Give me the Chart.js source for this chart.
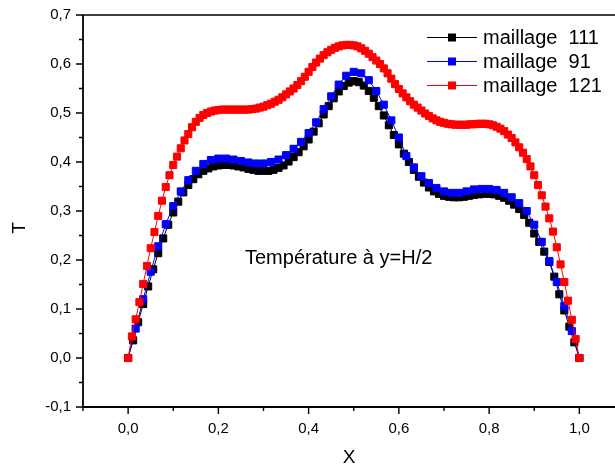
<!DOCTYPE html>
<html><head><meta charset="utf-8">
<script src="https://cdn.jsdelivr.net/npm/chart.js@4"></script>
<style>html,body{margin:0;padding:0;background:#fff;overflow:hidden}</style>
</head><body>
<canvas id="c" width="615" height="467"></canvas>
<script>
const seriesLabels = ['maillage  111', 'maillage  91', 'maillage  121'];
const seriesColors = ['#000000', '#0000ff', '#ff0000'];

// T values on uniform meshes from x = 0 to x = 1
const black111 = [
  0, 0.036, 0.073, 0.110, 0.146, 0.181, 0.214, 0.244, 0.272, 0.297,
  0.319, 0.338, 0.353, 0.365, 0.375, 0.382, 0.387, 0.391, 0.393, 0.394,
  0.394, 0.393, 0.391, 0.389, 0.386, 0.384, 0.382, 0.382, 0.382, 0.384,
  0.388, 0.393, 0.401, 0.410, 0.420, 0.432, 0.446, 0.462, 0.479, 0.497,
  0.514, 0.530, 0.544, 0.555, 0.562, 0.565, 0.563, 0.556, 0.545, 0.531,
  0.514, 0.495, 0.475, 0.455, 0.436, 0.417, 0.400, 0.384, 0.370, 0.358,
  0.348, 0.340, 0.335, 0.331, 0.329, 0.328, 0.328, 0.329, 0.331, 0.333,
  0.334, 0.335, 0.335, 0.334, 0.331, 0.327, 0.321, 0.313, 0.304, 0.292,
  0.276, 0.254, 0.237, 0.217, 0.196, 0.166, 0.130, 0.097, 0.064, 0.032,
  0
];
const blue91 = [
  0, 0.060, 0.120, 0.176, 0.228, 0.273, 0.310, 0.340, 0.363, 0.382,
  0.396, 0.404, 0.407, 0.407, 0.405, 0.402, 0.399, 0.397, 0.397, 0.400,
  0.405, 0.414, 0.427, 0.441, 0.459, 0.481, 0.508, 0.534, 0.558, 0.576,
  0.584, 0.581, 0.567, 0.545, 0.517, 0.485, 0.450, 0.412, 0.389, 0.371,
  0.357, 0.347, 0.340, 0.337, 0.337, 0.340, 0.344, 0.345, 0.345, 0.343,
  0.337, 0.328, 0.316, 0.300, 0.272, 0.237, 0.198, 0.155, 0.106, 0.055,
  0
];
const red121 = [
  0, 0.044, 0.079, 0.114, 0.151, 0.188, 0.224, 0.257, 0.290, 0.321,
  0.349, 0.373, 0.394, 0.411, 0.428, 0.444, 0.457, 0.471, 0.482, 0.490,
  0.496, 0.500, 0.503, 0.505, 0.506, 0.507, 0.507, 0.507, 0.507, 0.507,
  0.507, 0.507, 0.507, 0.508, 0.509, 0.511, 0.513, 0.516, 0.519, 0.523,
  0.527, 0.532, 0.538, 0.544, 0.550, 0.557, 0.565, 0.574, 0.584, 0.594,
  0.603, 0.611, 0.618, 0.624, 0.629, 0.633, 0.636, 0.638, 0.639, 0.639,
  0.638, 0.636, 0.632, 0.627, 0.621, 0.614, 0.607, 0.600, 0.591, 0.581,
  0.570, 0.559, 0.549, 0.540, 0.532, 0.524, 0.517, 0.511, 0.505, 0.499,
  0.494, 0.489, 0.485, 0.482, 0.480, 0.478, 0.477, 0.476, 0.476, 0.476,
  0.476, 0.477, 0.477, 0.478, 0.478, 0.478, 0.477, 0.475, 0.472, 0.468,
  0.463, 0.456, 0.449, 0.440, 0.430, 0.419, 0.406, 0.391, 0.373, 0.353,
  0.332, 0.309, 0.285, 0.258, 0.226, 0.191, 0.155, 0.117, 0.078, 0.039,
  0
];

const xTickValues = [0, 0.2, 0.4, 0.6, 0.8, 1.0];
const xMinorValues = [-0.1, 0.1, 0.3, 0.5, 0.7, 0.9];
const yTickValues = [-0.1, 0, 0.1, 0.2, 0.3, 0.4, 0.5, 0.6, 0.7];
const yMinorValues = [-0.05, 0.05, 0.15, 0.25, 0.35, 0.45, 0.55, 0.65];
const xTitle = 'X';
const yTitle = 'T';
const noteText = 'Température à y=H/2';
const notePos = {x: 0.259, y: 0.204};

const FONT = "'Liberation Sans', Arial, sans-serif";

function onMesh(arr) {
  const n = arr.length - 1;
  return arr.map((v, i) => ({x: i / n, y: v}));
}
function fmt(v) {
  return (Math.round(v * 10) / 10).toFixed(1).replace('.', ',');
}

const seriesData = [black111, blue91, red121];
const datasets = seriesData.map((arr, k) => ({
  label: seriesLabels[k],
  data: onMesh(arr),
  showLine: true,
  borderColor: seriesColors[k],
  backgroundColor: seriesColors[k],
  borderWidth: 1,
  pointStyle: 'rect',
  pointRadius: 5,
  pointBorderWidth: 1,
  pointBorderColor: seriesColors[k],
  pointBackgroundColor: seriesColors[k],
  order: 3 - k
}));

const decor = {
  id: 'decor',
  afterDraw(chart) {
    const ctx = chart.ctx;
    const a = chart.chartArea;
    const xs = chart.scales.x, ys = chart.scales.y;
    ctx.save();
    ctx.strokeStyle = '#000';
    ctx.lineCap = 'butt';
    // frame
    ctx.lineWidth = 1.8;
    ctx.beginPath();
    ctx.moveTo(a.left, a.top); ctx.lineTo(a.left, a.bottom);
    ctx.moveTo(a.left - 1, a.bottom); ctx.lineTo(a.right, a.bottom);
    ctx.stroke();
    ctx.lineWidth = 1.4;
    ctx.beginPath();
    ctx.moveTo(a.left, a.top); ctx.lineTo(a.right, a.top);
    ctx.stroke();
    // ticks
    ctx.lineWidth = 1.4;
    ctx.beginPath();
    xTickValues.forEach(v => { const p = xs.getPixelForValue(v); ctx.moveTo(p, a.bottom); ctx.lineTo(p, a.bottom + 7); });
    xMinorValues.forEach(v => { const p = xs.getPixelForValue(v); ctx.moveTo(p, a.bottom); ctx.lineTo(p, a.bottom + 4); });
    yTickValues.forEach(v => { const p = ys.getPixelForValue(v); ctx.moveTo(a.left, p); ctx.lineTo(a.left - 7, p); });
    yMinorValues.forEach(v => { const p = ys.getPixelForValue(v); ctx.moveTo(a.left, p); ctx.lineTo(a.left - 4, p); });
    ctx.stroke();
    // axis titles
    ctx.fillStyle = '#000';
    ctx.font = '19px ' + FONT;
    ctx.textAlign = 'center';
    ctx.textBaseline = 'middle';
    ctx.fillText(xTitle, (a.left + a.right) / 2, 458);
    ctx.save();
    ctx.translate(20, 228);
    ctx.rotate(-Math.PI / 2);
    ctx.fillText(yTitle, 0, 0);
    ctx.restore();
    // annotation
    ctx.font = '20px ' + FONT;
    ctx.textAlign = 'left';
    ctx.fillText(noteText, xs.getPixelForValue(notePos.x), ys.getPixelForValue(notePos.y));
    // legend
    const rows = [37, 61, 85];
    chart.data.datasets.forEach((ds, i) => {
      const y = rows[i];
      ctx.strokeStyle = ds.borderColor;
      ctx.lineWidth = 1;
      ctx.beginPath();
      ctx.moveTo(427, y + 0.5); ctx.lineTo(477, y + 0.5);
      ctx.stroke();
      ctx.fillStyle = ds.backgroundColor;
      ctx.fillRect(448, y - 3.5, 8, 8);
      ctx.fillStyle = '#000';
      ctx.font = '20px ' + FONT;
      ctx.textAlign = 'left';
      ctx.textBaseline = 'middle';
      ctx.fillText(ds.label, 483, y + 1);
    });
    ctx.restore();
  }
};

new Chart(document.getElementById('c'), {
  type: 'scatter',
  data: {datasets},
  options: {
    responsive: false,
    animation: false,
    devicePixelRatio: 1,
    layout: {autoPadding: false, padding: {top: 15, left: 0, right: 0, bottom: 0}},
    plugins: {legend: {display: false}, tooltip: {enabled: false}},
    scales: {
      x: {
        type: 'linear', min: -0.1, max: 1.079,
        afterBuildTicks: s => { s.ticks = xTickValues.map(v => ({value: v})); },
        afterFit: s => { s.height = 60; s.paddingLeft = 0; s.paddingRight = 0; },
        grid: {display: false, drawTicks: false},
        border: {display: false},
        ticks: {callback: v => fmt(v), color: '#000', font: {family: FONT, size: 15}, padding: 13, maxRotation: 0, autoSkip: false}
      },
      y: {
        type: 'linear', min: -0.1, max: 0.7,
        afterBuildTicks: s => { s.ticks = yTickValues.map(v => ({value: v})); },
        afterFit: s => { s.width = 83; s.paddingTop = 0; s.paddingBottom = 0; },
        grid: {display: false, drawTicks: false},
        border: {display: false},
        ticks: {callback: v => fmt(v), color: '#000', font: {family: FONT, size: 15}, padding: 12, autoSkip: false}
      }
    }
  },
  plugins: [decor]
});
</script>
</body></html>
